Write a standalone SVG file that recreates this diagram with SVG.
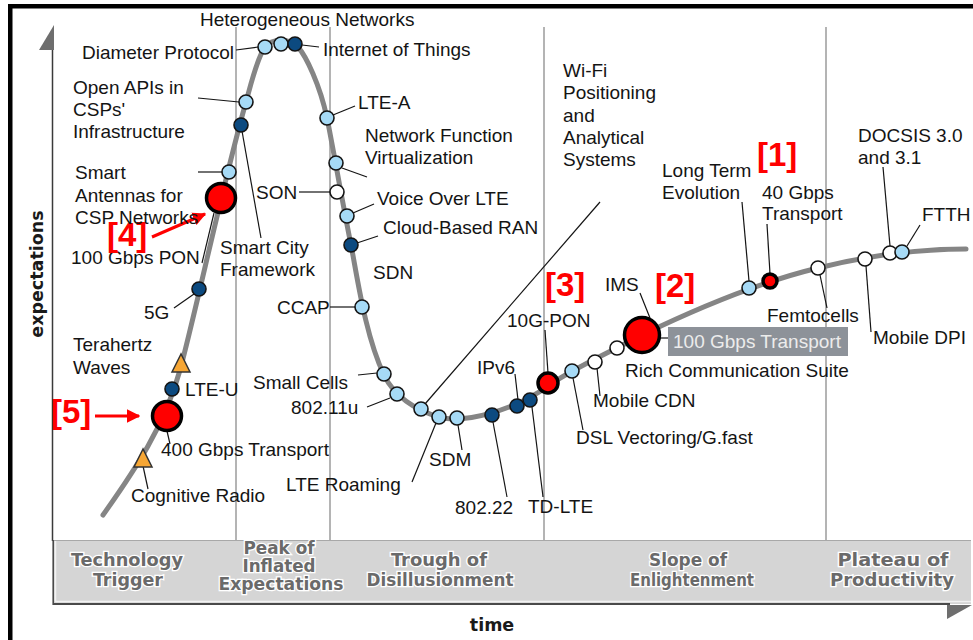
<svg xmlns="http://www.w3.org/2000/svg" width="973" height="640" viewBox="0 0 973 640">
<defs>
<style>
.t{font-family:"Liberation Sans",Arial,sans-serif;font-size:19px;fill:#141414}
.e{text-anchor:end}
.rl{font-family:"Liberation Sans",Arial,sans-serif;font-weight:bold;font-size:33px;fill:#ff0000}
.ld{stroke:#141414;stroke-width:1.2;fill:none}
.lb{fill:#a6daf6;stroke:#141414;stroke-width:1.6}
.db{fill:#0c4a80;stroke:#141414;stroke-width:1.6}
.wh{fill:#ffffff;stroke:#141414;stroke-width:1.6}
.rd{fill:#ff0000;stroke:#000;stroke-width:3.5}
.tri{fill:#f6a634;stroke:#333;stroke-width:1.5}
.sep{stroke:#b4b4b4;stroke-width:2}
.ph{font-family:"DejaVu Sans Condensed","DejaVu Sans",sans-serif;font-weight:bold;font-size:17px;fill:#6a6a6a;stroke:#fff;stroke-width:2.5;paint-order:stroke;text-anchor:middle}
.ax{font-family:"DejaVu Sans",sans-serif;font-weight:bold;font-size:17.5px;fill:#1a1a1a;text-anchor:middle}
</style>
<marker id="ah" viewBox="0 0 10 10" refX="9" refY="5" markerWidth="4.5" markerHeight="4.5" orient="auto" markerUnits="strokeWidth">
<path d="M0,0 L10,5 L0,10 z" fill="#ff0000"/>
</marker>
</defs>
<rect width="973" height="640" fill="#fff"/>
<!-- frame -->
<rect x="8" y="4" width="965" height="4.5" fill="#000"/>
<rect x="8" y="4" width="4.5" height="636" fill="#000"/>
<!-- phase separators -->
<g id="separators">
<line class="sep" x1="236" y1="27" x2="236" y2="540"/>
<line class="sep" x1="330" y1="27" x2="330" y2="540"/>
<line class="sep" x1="544" y1="27" x2="544" y2="540"/>
<line class="sep" x1="826" y1="27" x2="826" y2="540"/>
</g>
<!-- axes -->
<g id="y-axis">
<line x1="52.5" y1="48" x2="52.5" y2="541" stroke="#3a3a3a" stroke-width="1.5"/>
<polygon points="54,25 39,50 54,50" fill="#6e6e6e"/>
<text class="ax" transform="translate(43,274) rotate(-90)">expectations</text>
</g>
<g id="phase-band">
<rect x="53" y="540" width="918" height="64" fill="#d5d5d5"/>
<line x1="53" y1="540.5" x2="971" y2="540.5" stroke="#a8a8a8" stroke-width="1"/>
<line x1="55.5" y1="541" x2="55.5" y2="601" stroke="#f2f2f2" stroke-width="1.5"/>
<line x1="55" y1="601.5" x2="971" y2="601.5" stroke="#f2f2f2" stroke-width="1.5"/>
<line x1="53.2" y1="540" x2="53.2" y2="605" stroke="#4a4a4a" stroke-width="1.6"/>
<line x1="53" y1="604" x2="950" y2="604" stroke="#4a4a4a" stroke-width="2"/>
<polygon points="947,605 972,605 947,619" fill="#6e6e6e"/>
<text class="ph" x="127" y="566" textLength="112" lengthAdjust="spacingAndGlyphs">Technology</text>
<text class="ph" x="128" y="586" textLength="70" lengthAdjust="spacingAndGlyphs">Trigger</text>
<text class="ph" x="279" y="554" textLength="71" lengthAdjust="spacingAndGlyphs">Peak of</text>
<text class="ph" x="279" y="572" textLength="73" lengthAdjust="spacingAndGlyphs">Inflated</text>
<text class="ph" x="281" y="590" textLength="125" lengthAdjust="spacingAndGlyphs">Expectations</text>
<text class="ph" x="439" y="566" textLength="96" lengthAdjust="spacingAndGlyphs">Trough of</text>
<text class="ph" x="440" y="586" textLength="147" lengthAdjust="spacingAndGlyphs">Disillusionment</text>
<text class="ph" x="688" y="566" textLength="78" lengthAdjust="spacingAndGlyphs">Slope of</text>
<text class="ph" x="692" y="586" textLength="124" lengthAdjust="spacingAndGlyphs">Enlightenment</text>
<text class="ph" x="893" y="566" textLength="111" lengthAdjust="spacingAndGlyphs">Plateau of</text>
<text class="ph" x="892" y="586" textLength="124" lengthAdjust="spacingAndGlyphs">Productivity</text>
<text class="ax" x="492" y="631">time</text>
</g>
<!-- hype curve -->
<path id="curve" d="M103,515 C135,470 165,425 180,370 C195,315 225,175 246,102 C251,84 257,58 265,47 C272,38 290,38 298,47 C306,56 320,85 327,118 C332,142 342,200 351,245 C357,275 365,335 384,375 C394,396 415,410 439,417 C465,424 515,410 548,386 C570,370 610,352 642,335 C700,307 760,282 818,268 C858,258 910,249 966,249" fill="none" stroke="#858585" stroke-width="5" stroke-linecap="round"/>
<!-- connectors -->
<g id="connectors">
<line class="ld" x1="236" y1="50" x2="258" y2="47"/>
<line class="ld" x1="302" y1="45" x2="319" y2="47"/>
<line class="ld" x1="198" y1="98" x2="239" y2="102"/>
<line class="ld" x1="198" y1="172" x2="222" y2="172"/>
<line class="ld" x1="202" y1="263" x2="214" y2="213"/>
<line class="ld" x1="242" y1="131" x2="261" y2="238"/>
<line class="ld" x1="174" y1="308" x2="194" y2="294"/>
<line class="ld" x1="167" y1="431" x2="170" y2="444"/>
<line class="ld" x1="143" y1="466" x2="148" y2="489"/>
<line class="ld" x1="333" y1="115" x2="355" y2="106"/>
<line class="ld" x1="342" y1="168" x2="367" y2="177"/>
<line class="ld" x1="299" y1="192" x2="330" y2="192"/>
<line class="ld" x1="353" y1="213" x2="374" y2="204"/>
<line class="ld" x1="357" y1="243" x2="378" y2="236"/>
<line class="ld" x1="330" y1="307" x2="355" y2="307"/>
<line class="ld" x1="358" y1="375" x2="377" y2="373"/>
<line class="ld" x1="367" y1="407" x2="390" y2="398"/>
<line class="ld" x1="600" y1="202" x2="425" y2="404"/>
<line class="ld" x1="412" y1="482" x2="436" y2="423"/>
<line class="ld" x1="458" y1="425" x2="462" y2="450"/>
<line class="ld" x1="493" y1="422" x2="507" y2="497"/>
<line class="ld" x1="515" y1="374" x2="518" y2="400"/>
<line class="ld" x1="532" y1="407" x2="543" y2="497"/>
<line class="ld" x1="545" y1="330" x2="548" y2="373"/>
<line class="ld" x1="573" y1="378" x2="583" y2="430"/>
<line class="ld" x1="597" y1="368" x2="600" y2="396"/>
<line class="ld" x1="640" y1="293" x2="650" y2="318"/>
<line class="ld" x1="660" y1="338" x2="668" y2="338"/>
<line class="ld" x1="742" y1="202" x2="749" y2="281"/>
<line class="ld" x1="767" y1="224" x2="770" y2="274"/>
<line class="ld" x1="820" y1="275" x2="827" y2="308"/>
<line class="ld" x1="866" y1="266" x2="871" y2="332"/>
<line class="ld" x1="883" y1="167" x2="890" y2="246"/>
<line class="ld" x1="907" y1="246" x2="920" y2="225"/>
<line x1="95" y1="416" x2="139" y2="416" stroke="#ff0000" stroke-width="3" marker-end="url(#ah)"/>
<line x1="152" y1="237" x2="205" y2="214" stroke="#ff0000" stroke-width="3" marker-end="url(#ah)"/>
</g>
<!-- nodes -->
<g id="n-cognitive-radio"><polygon class="tri" points="143,449 134,467 152,467"/><text class="t" x="131" y="502">Cognitive Radio</text></g>
<g id="n-400g"><circle class="rd" cx="167" cy="416" r="14.5"/><text class="t" x="161" y="456">400 Gbps Transport</text><text class="rl" x="51" y="423">[5]</text></g>
<g id="n-lte-u"><circle class="db" cx="172" cy="389" r="7"/><text class="t" x="185" y="396">LTE-U</text></g>
<g id="n-terahertz"><polygon class="tri" points="181,354 172,372 190,372"/><text class="t" x="73" y="351">Terahertz</text><text class="t" x="73" y="374">Waves</text></g>
<g id="n-5g"><circle class="db" cx="199" cy="289" r="7"/><text class="t" x="144" y="319">5G</text></g>
<g id="n-100g-pon"><circle class="rd" cx="221" cy="198" r="14.5"/><text class="t" x="71" y="264">100 Gbps PON</text><text class="rl" x="107" y="246">[4]</text></g>
<g id="n-smart-antennas"><circle class="lb" cx="229" cy="172" r="7"/><text class="t" x="75" y="179">Smart</text><text class="t" x="75" y="202">Antennas for</text><text class="t" x="75" y="224">CSP Networks</text></g>
<g id="n-smart-city"><circle class="db" cx="241" cy="125" r="7"/><text class="t" x="220" y="254">Smart City</text><text class="t" x="220" y="276">Framework</text></g>
<g id="n-open-apis"><circle class="lb" cx="246" cy="102" r="7"/><text class="t" x="73" y="94">Open APIs in</text><text class="t" x="73" y="116">CSPs'</text><text class="t" x="73" y="138">Infrastructure</text></g>
<g id="n-diameter"><circle class="lb" cx="265" cy="47" r="7"/><text class="t e" x="234" y="59">Diameter Protocol</text></g>
<g id="n-hetnet"><circle class="lb" cx="281" cy="44" r="7"/><text class="t" x="200" y="26">Heterogeneous Networks</text></g>
<g id="n-iot"><circle class="db" cx="295" cy="44" r="7"/><text class="t" x="323" y="56">Internet of Things</text></g>
<g id="n-lte-a"><circle class="lb" cx="327" cy="118" r="7"/><text class="t" x="358" y="109">LTE-A</text></g>
<g id="n-nfv"><circle class="lb" cx="336" cy="163" r="7"/><text class="t" x="365" y="142">Network Function</text><text class="t" x="365" y="164">Virtualization</text></g>
<g id="n-son"><circle class="wh" cx="337" cy="192" r="7"/><text class="t" x="256" y="199">SON</text></g>
<g id="n-volte"><circle class="lb" cx="347" cy="216" r="7"/><text class="t" x="377" y="205">Voice Over LTE</text></g>
<g id="n-cran"><circle class="db" cx="351" cy="245" r="7"/><text class="t" x="383" y="234">Cloud-Based RAN</text></g>
<g id="n-sdn"><text class="t" x="373" y="279">SDN</text></g>
<g id="n-ccap"><circle class="lb" cx="362" cy="307" r="7"/><text class="t" x="277" y="314">CCAP</text></g>
<g id="n-small-cells"><circle class="lb" cx="384" cy="374" r="7"/><text class="t" x="253" y="389">Small Cells</text></g>
<g id="n-80211u"><circle class="lb" cx="397" cy="394" r="7"/><text class="t" x="291" y="414">802.11u</text></g>
<g id="n-wifi"><circle class="lb" cx="421" cy="409" r="7"/><text class="t" x="563" y="77">Wi-Fi</text><text class="t" x="563" y="99">Positioning</text><text class="t" x="563" y="122">and</text><text class="t" x="563" y="144">Analytical</text><text class="t" x="563" y="166">Systems</text></g>
<g id="n-lte-roaming"><circle class="lb" cx="439" cy="417" r="7"/><text class="t" x="286" y="491">LTE Roaming</text></g>
<g id="n-sdm"><circle class="lb" cx="457" cy="418" r="7"/><text class="t" x="429" y="466">SDM</text></g>
<g id="n-80222"><circle class="db" cx="492" cy="415" r="7"/><text class="t" x="455" y="514">802.22</text></g>
<g id="n-ipv6"><circle class="db" cx="517" cy="406" r="7"/><text class="t" x="477" y="374">IPv6</text></g>
<g id="n-td-lte"><circle class="db" cx="530" cy="400" r="7"/><text class="t" x="528" y="513">TD-LTE</text></g>
<g id="n-10g-pon"><circle class="rd" cx="548" cy="383" r="10" stroke-width="3"/><text class="t" x="507" y="327">10G-PON</text><text class="rl" x="545" y="296">[3]</text></g>
<g id="n-dsl"><circle class="lb" cx="572" cy="371" r="7"/><text class="t" x="576" y="444">DSL Vectoring/G.fast</text></g>
<g id="n-mobile-cdn"><circle class="wh" cx="595" cy="362" r="7"/><text class="t" x="593" y="407">Mobile CDN</text></g>
<g id="n-rcs"><circle class="wh" cx="617" cy="348" r="7"/><text class="t" x="625" y="377">Rich Communication Suite</text></g>
<g id="n-ims"><circle class="rd" cx="642" cy="335" r="17.5"/><text class="t" x="605" y="291">IMS</text><text class="rl" x="655" y="297">[2]</text><rect x="668" y="327" width="180" height="29" fill="#8d9299"/><text class="t" x="673" y="348" style="fill:#ececec">100 Gbps Transport</text></g>
<g id="n-lte"><circle class="lb" cx="749" cy="288" r="7"/><text class="t" x="662" y="177">Long Term</text><text class="t" x="662" y="199">Evolution</text></g>
<g id="n-40g"><circle class="rd" cx="770" cy="281" r="7" stroke-width="3"/><text class="t" x="762" y="199">40 Gbps</text><text class="t" x="762" y="220">Transport</text><text class="rl" x="757" y="166">[1]</text></g>
<g id="n-femtocells"><circle class="wh" cx="818" cy="268" r="7"/><text class="t" x="767" y="322">Femtocells</text></g>
<g id="n-mobile-dpi"><circle class="wh" cx="865" cy="259" r="7"/><text class="t" x="873" y="344">Mobile DPI</text></g>
<g id="n-docsis"><circle class="wh" cx="890" cy="253" r="7"/><text class="t" x="858" y="142">DOCSIS 3.0</text><text class="t" x="858" y="164">and 3.1</text></g>
<g id="n-ftth"><circle class="lb" cx="902" cy="252" r="7"/><text class="t" x="922" y="221">FTTH</text></g>
</svg>
